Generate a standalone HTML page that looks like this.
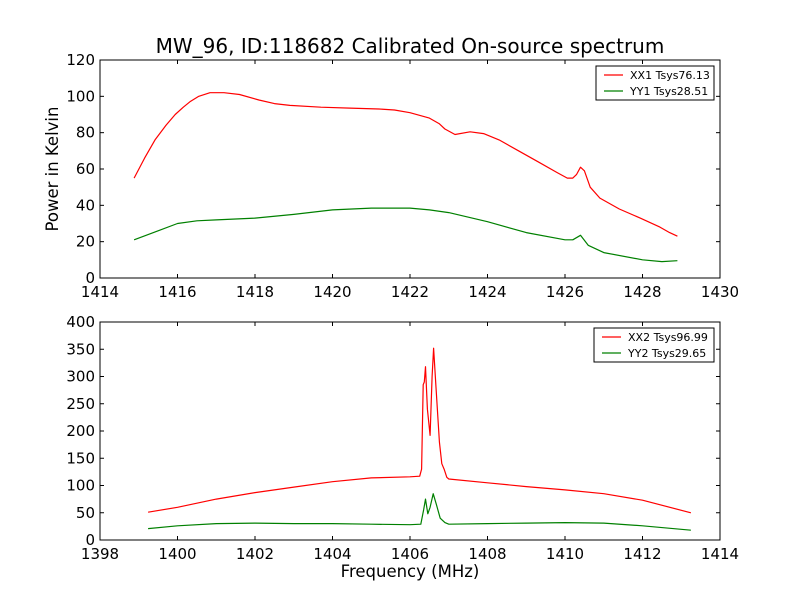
<!DOCTYPE html>
<html><head><meta charset="utf-8"><style>body{margin:0;background:#fff}svg{display:block;font-family:"DejaVu Sans","Liberation Sans",sans-serif}</style></head>
<body>
<svg id="c" width="800" height="600"></svg>
<script>
const topFreq=[1414.88,1415.15,1415.42,1415.7,1415.94,1416.15,1416.32,1416.55,1416.84,1417.2,1417.6,1418.1,1418.5,1418.9,1419.7,1420.45,1421.2,1421.6,1422,1422.5,1422.75,1422.9,1423.16,1423.55,1423.9,1424.3,1424.8,1425.3,1425.8,1426.06,1426.2,1426.3,1426.4,1426.5,1426.65,1426.9,1427.4,1427.94,1428.45,1428.7,1428.9];
const xx1=[55,66,76,84,90,94,97,100,102,102,101,98,96,95,94,93.5,93,92.5,91,88,85,82,79,80.5,79.5,76,70,64,58,55,55,57,61,59,50,44,38,33,28,25,23];
const yy1Freq=[1414.88,1415.5,1416,1416.5,1417,1418,1419,1420,1421,1422,1422.5,1423,1424,1425,1426,1426.2,1426.4,1426.6,1427,1428,1428.5,1428.9];
const yy1=[21,26,30,31.5,32,33,35,37.5,38.5,38.5,37.5,36,31,25,21,21,23.5,18,14,10,9,9.5];
const botFreq=[1399.24,1400,1401,1402,1403,1404,1405,1406,1406.25,1406.3,1406.34,1406.37,1406.4,1406.45,1406.52,1406.57,1406.61,1406.67,1406.76,1406.82,1406.88,1406.95,1407,1408,1409,1410,1411,1412,1413.25];
const xx2=[51,60,75,87,97,107,114,116,117,130,285,290,318,240,192,300,352,280,180,140,130,115,112,105,98,92,85,73,50];
const yy2Freq=[1399.24,1400,1401,1402,1403,1404,1405,1406,1406.28,1406.35,1406.4,1406.46,1406.52,1406.6,1406.68,1406.78,1406.9,1407,1408,1409,1410,1411,1412,1413.25];
const yy2=[21,26,30,31,30,30,29,28,29,55,75,48,60,85,65,40,32,29,30,31,32,31,26,18];
const topXTicks=[1414,1416,1418,1420,1422,1424,1426,1428,1430];
const topYTicks=[0,20,40,60,80,100,120];
const botXTicks=[1398,1400,1402,1404,1406,1408,1410,1412,1414];
const botYTicks=[0,50,100,150,200,250,300,350,400];
const NS='http://www.w3.org/2000/svg',svg=document.getElementById('c');
function el(t,a,txt,p){const e=document.createElementNS(NS,t);for(const k in a)e.setAttribute(k,a[k]);if(txt!=null)e.textContent=txt;(p||svg).appendChild(e);return e;}
function panel(name,y0,y1,xmin,xmax,ymin,ymax,xt,yt,series,legend){
 const L=100,R=720;
 const sx=v=>L+(v-xmin)/(xmax-xmin)*(R-L), sy=v=>y1-(v-ymin)/(ymax-ymin)*(y1-y0);
 const g=el('g',{});
 
 
 series.forEach(s=>{
  const p=el('polyline',{points:s.x.map((f,i)=>sx(f).toFixed(1)+','+sy(s.y[i]).toFixed(1)).join(' '),fill:'none',stroke:s.c,'stroke-width':1.2,'stroke-linejoin':'round'},null,g);
  
  
 });
 xt.forEach(v=>{const x=sx(v);el('line',{x1:x,x2:x,y1:y1,y2:y1-4,stroke:'#000'},null,g);el('line',{x1:x,x2:x,y1:y0,y2:y0+4,stroke:'#000'},null,g);
  const t=el('text',{x:x,y:y1+19,'text-anchor':'middle','font-size':15},v,g);});
 yt.forEach(v=>{const y=sy(v);el('line',{x1:L,x2:L+4,y1:y,y2:y,stroke:'#000'},null,g);el('line',{x1:R,x2:R-4,y1:y,y2:y,stroke:'#000'},null,g);
  const t=el('text',{x:L-5,y:y+5,'text-anchor':'end','font-size':15},v,g);});
 const fr=el('rect',{x:L,y:y0,width:R-L,height:y1-y0,fill:'none',stroke:'#000'},null,g);
 
 const lg=el('g',{},null,g);
 
 
 el('rect',{x:legend.x,y:y0+6,width:legend.w,height:34,fill:'#fff',stroke:'#000'},null,lg);
 legend.items.forEach((it,i)=>{const yy=y0+15+i*16;el('line',{x1:legend.x+8,x2:legend.x+27,y1:yy,y2:yy,stroke:it.c,'stroke-width':1.2},null,lg);
  const t=el('text',{x:legend.x+34,y:yy+4,'font-size':11},it.t,lg);});
}
panel('top-axes',60,278,1414,1430,0,120,topXTicks,topYTicks,[{x:topFreq,y:xx1,c:'#f00',n:'xx1-line'},{x:yy1Freq,y:yy1,c:'#008000',n:'yy1-line'}],{x:596,w:118,items:[{t:'XX1 Tsys76.13',c:'#f00'},{t:'YY1 Tsys28.51',c:'#008000'}]});
panel('bottom-axes',322,540,1398,1414,0,400,botXTicks,botYTicks,[{x:botFreq,y:xx2,c:'#f00',n:'xx2-line'},{x:yy2Freq,y:yy2,c:'#008000',n:'yy2-line'}],{x:594,w:120,items:[{t:'XX2 Tsys96.99',c:'#f00'},{t:'YY2 Tsys29.65',c:'#008000'}]});
let t=el('text',{x:410,y:53,'text-anchor':'middle','font-size':20},'MW_96, ID:118682 Calibrated On-source spectrum');
t=el('text',{x:58,y:169,'text-anchor':'middle','font-size':16.5,transform:'rotate(-90 58 169)'},'Power in Kelvin');
t=el('text',{x:410,y:577,'text-anchor':'middle','font-size':16.5},'Frequency (MHz)');
</script>
</body></html>
